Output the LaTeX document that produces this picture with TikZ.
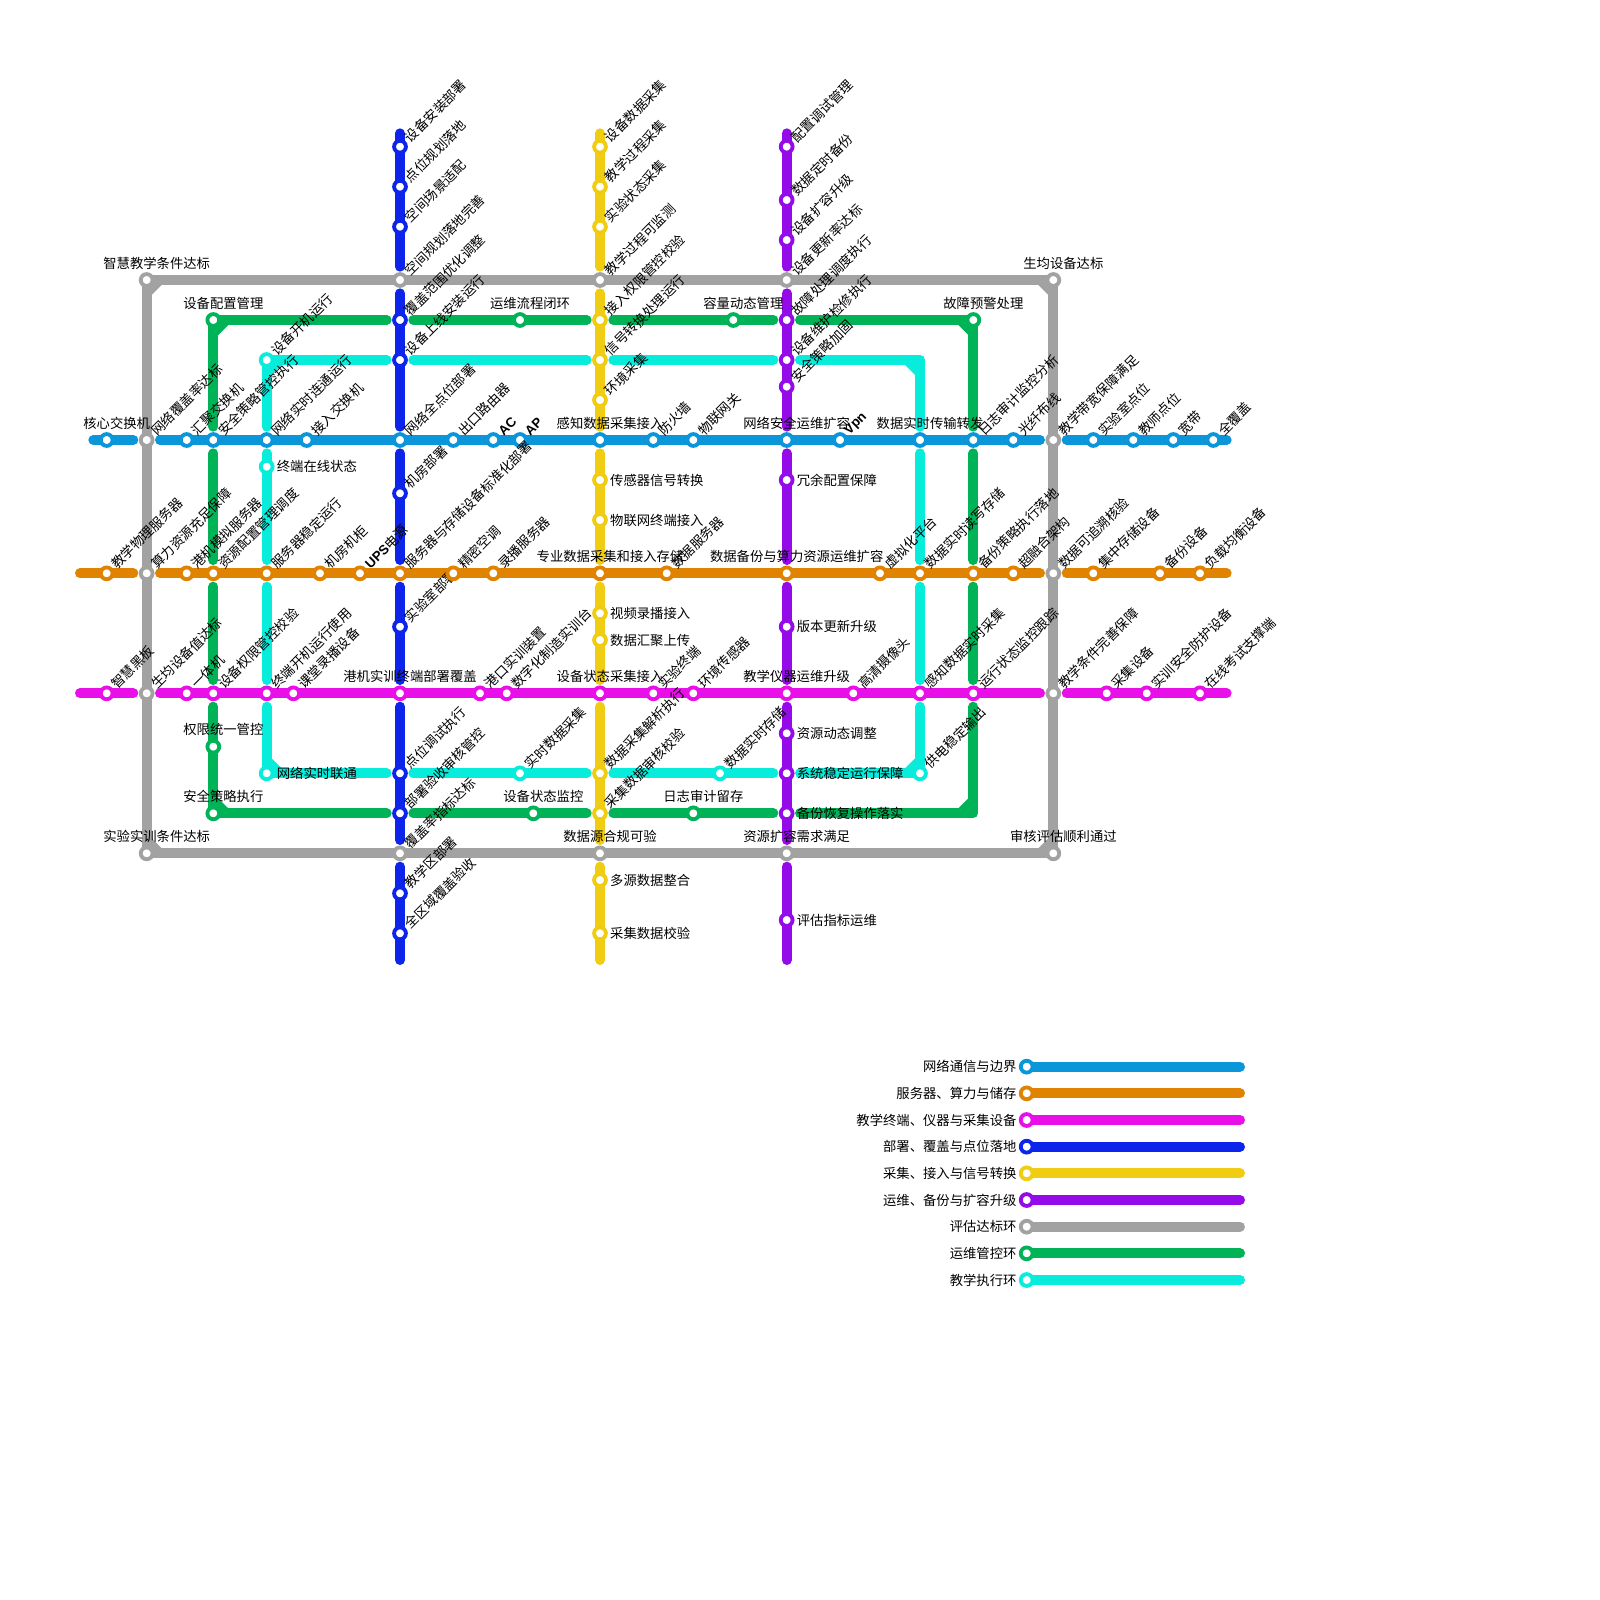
\documentclass[tikz,border=0pt]{standalone}
\usepackage{fontspec}
\setmainfont{Noto Sans CJK SC}
\newfontfamily\boldlat{Liberation Sans}
\usetikzlibrary{backgrounds}
\definecolor{netc}{HTML}{0A96D8}
\definecolor{orangec}{HTML}{DF8300}
\definecolor{magentac}{HTML}{E90FE9}
\definecolor{bluec}{HTML}{0D24EA}
\definecolor{yellowc}{HTML}{F0CC12}
\definecolor{purplec}{HTML}{940AE9}
\definecolor{greyc}{HTML}{A2A2A2}
\definecolor{greenc}{HTML}{00B357}
\definecolor{cyanc}{HTML}{08ECDC}

\begin{document}
\begin{tikzpicture}[
        x=0.4cm, y=-0.4cm,
        font=\fontsize{11.38pt}{13pt}\selectfont,
        ln/.style={line width=0.3cm, line cap=round, line join=round, draw=#1},
        gaps/.style={shorten <=0.4cm},
        gape/.style={shorten >=0.4cm},
        gapb/.style={shorten <=0.4cm, shorten >=0.4cm},
        st/.style={circle, fill=white, line width=0.115cm, inner sep=0pt, outer sep=0pt, minimum size=0.355cm, draw=#1},
        lbd/.style={xshift=0.21cm, yshift=0.21cm, rotate=45, anchor=west, inner sep=0pt},
        lbu/.style={xshift=0.3cm, yshift=0.51cm, inner sep=0pt},
        lbr/.style={xshift=0.3cm, anchor=west, inner sep=0pt},
        lbl/.style={xshift=-0.3cm, anchor=east, inner sep=0pt}
    ]
    \useasboundingbox (0,0) rectangle (120,120);

    % vertical lines
    \foreach \py/\kd/\tx in {11/lbd/设备安装部署, 14/lbd/点位规划落地, 17/lbd/空间场景适配, 24/lbd/覆盖范围优化调整, 27/lbd/设备上线安装运行, 37/lbd/机房部署, 47/lbd/实验室部署, 58/lbd/点位调试执行, 61/lbd/部署验收审核管控, 67/lbd/教学区部署, 70/lbd/全区域覆盖验收}
        {\node[st=bluec] (b\py) at (30,\py) {}; \node[\kd] (bt\py) at (b\py) {\tx};}
    \foreach \py/\kd/\tx in {11/lbd/设备数据采集, 14/lbd/教学过程采集, 17/lbd/实验状态采集, 24/lbd/接入权限管控校验, 27/lbd/信号转换处理运行, 30/lbd/环境采集, 36/lbr/传感器信号转换, 39/lbr/物联网终端接入, 46/lbr/视频录播接入, 48/lbr/数据汇聚上传, 58/lbd/数据采集解析执行, 61/lbd/采集数据审核校验, 66/lbr/多源数据整合, 70/lbr/采集数据校验}
        {\node[st=yellowc] (y\py) at (45,\py) {}; \node[\kd] (yt\py) at (y\py) {\tx};}
    \foreach \py/\kd/\tx in {11/lbd/配置调试管理, 15/lbd/数据定时备份, 18/lbd/设备扩容升级, 24/lbd/故障处理调度执行, 27/lbd/设备维护检修执行, 29/lbd/安全策略加固, 36/lbr/冗余配置保障, 47/lbr/版本更新升级, 55/lbr/资源动态调整, 58/lbr/系统稳定运行保障, 61/lbr/备份恢复操作落实, 69/lbr/评估指标运维}
        {\node[st=purplec] (p\py) at (59,\py) {}; \node[\kd] (pt\py) at (p\py) {\tx};}

    % grey ring
    \foreach \px/\kd/\tx in {11/lbu/智慧教学条件达标, 30/lbd/空间规划落地完善, 45/lbd/教学过程可监测, 59/lbd/设备更新率达标, 79/lbu/生均设备达标}
        {\node[st=greyc] (gt\px) at (\px,21) {}; \node[\kd] (gtt\px) at (gt\px) {\tx};}
    \foreach \px/\kd/\tx in {11/lbu/实验实训条件达标, 30/lbd/覆盖率指标达标, 45/lbu/数据源合规可验, 59/lbu/资源扩容需求满足, 79/lbu/审核评估顺利通过}
        {\node[st=greyc] (gb\px) at (\px,64) {}; \node[\kd] (gbt\px) at (gb\px) {\tx};}
    \foreach \py/\tx in {33/网络覆盖率达标, 43/算力资源充足保障, 52/生均设备值达标}
        {\node[st=greyc] (gl\py) at (11,\py) {}; \node[lbd] (glt\py) at (gl\py) {\tx};}
    \foreach \py/\tx in {33/教学带宽保障满足, 43/数据可追溯核验, 52/教学条件完善保障}
        {\node[st=greyc] (gr\py) at (79,\py) {}; \node[lbd] (grt\py) at (gr\py) {\tx};}

    % green ring
    \foreach \px/\py/\kd/\tx in {16/24/lbu/设备配置管理, 39/24/lbu/运维流程闭环, 55/24/lbu/容量动态管理, 73/24/lbu/故障预警处理, 16/56/lbu/权限统一管控, 16/61/lbu/安全策略执行, 40/61/lbu/设备状态监控, 52/61/lbu/日志审计留存}
        {\node[st=greenc] (k\px-\py) at (\px,\py) {}; \node[\kd] (kt\px-\py) at (k\px-\py) {\tx};}

    % cyan ring
    \foreach \px/\py/\kd/\tx in {20/27/lbd/设备开机运行, 20/35/lbr/终端在线状态, 20/58/lbr/网络实时联通, 39/58/lbd/实时数据采集, 54/58/lbd/数据实时存储, 69/58/lbd/供电稳定输出}
        {\node[st=cyanc] (c\px-\py) at (\px,\py) {}; \node[\kd] (ct\px-\py) at (c\px-\py) {\tx};}

    % horizontal lines
    \foreach \px/\kd/\tx in {8/lbu/核心交换机, 14/lbd/汇聚交换机, 16/lbd/安全策略管控执行, 20/lbd/网络实时连通运行, 23/lbd/接入交换机, 30/lbd/网络全点位部署, 34/lbd/出口路由器, 37/lbd/{\boldlat\bfseries AC}, 39/lbd/{\boldlat\bfseries AP}, 45/lbu/感知数据采集接入, 49/lbd/防火墙, 52/lbd/物联网关, 59/lbu/网络安全运维扩容, 63/lbd/{\boldlat\bfseries Vpn}, 69/lbu/数据实时传输转发, 73/lbd/日志审计监控分析, 76/lbd/光纤布线, 82/lbd/实验室点位, 85/lbd/教师点位, 88/lbd/宽带, 91/lbd/全覆盖}
        {\node[st=netc] (n\px) at (\px,33) {}; \node[\kd] (nt\px) at (n\px) {\tx};}
    \foreach \px/\kd/\tx in {8/lbd/教学物理服务器, 14/lbd/港机模拟服务器, 16/lbd/资源配置管理调度, 20/lbd/服务器稳定运行, 24/lbd/机房机柜, 27/lbd/{{\boldlat\bfseries UPS}电源}, 30/lbd/服务器与存储设备标准化部署, 34/lbd/精密空调, 37/lbd/录播服务器, 45/lbu/专业数据采集和接入存储, 50/lbd/数据服务器, 59/lbu/数据备份与算力资源运维扩容, 66/lbd/虚拟化平台, 69/lbd/数据实时读写存储, 73/lbd/备份策略执行落地, 76/lbd/超融合架构, 82/lbd/集中存储设备, 87/lbd/备份设备, 90/lbd/负载均衡设备}
        {\node[st=orangec] (o\px) at (\px,43) {}; \node[\kd] (ot\px) at (o\px) {\tx};}
    \foreach \px/\kd/\tx in {8/lbd/智慧黑板, 14/lbd/一体机, 16/lbd/设备权限管控校验, 20/lbd/终端开机运行使用, 22/lbd/课堂录播设备, 30/lbu/港机实训终端部署覆盖, 36/lbd/港口实训装置, 38/lbd/数字化制造实训台, 45/lbu/设备状态采集接入, 49/lbd/实验终端, 52/lbd/环境传感器, 59/lbu/教学仪器运维升级, 64/lbd/高清摄像头, 69/lbd/感知数据实时采集, 73/lbd/运行状态监控跟踪, 83/lbd/采集设备, 86/lbd/实训安全防护设备, 90/lbd/在线考试支撑端}
        {\node[st=magentac] (m\px) at (\px,52) {}; \node[\kd] (mt\px) at (m\px) {\tx};}

    % legend
    \foreach \py/\cc/\tx in {80/netc/网络通信与边界, 82/orangec/服务器、算力与储存, 84/magentac/教学终端、仪器与采集设备, 86/bluec/部署、覆盖与点位落地, 88/yellowc/采集、接入与信号转换, 90/purplec/运维、备份与扩容升级, 92/greyc/评估达标环, 94/greenc/运维管控环, 96/cyanc/教学执行环}
        {\node[st=\cc] (leg\py) at (77,\py) {};
         \node[lbl] (legt\py) at (leg\py) {\tx};
         \coordinate (lege\py) at (93,\py);
         \begin{scope}[on background layer]
            \draw[ln=\cc] (leg\py.center) -- (lege\py);
         \end{scope}}

    \coordinate (nA) at (7,33);  \coordinate (nZ) at (92,33);
    \coordinate (oA) at (6,43);  \coordinate (oZ) at (92,43);
    \coordinate (mA) at (6,52);  \coordinate (mZ) at (92,52);

    \begin{scope}[on background layer]
        \foreach \ll/\py/\cc in {n/33/netc, o/43/orangec, m/52/magentac} {
            \draw[ln=\cc, gape] (\ll A) -- (gl\py.center);
            \draw[ln=\cc, gapb] (gl\py.center) -- (gr\py.center);
            \draw[ln=\cc, gaps] (gr\py.center) -- (\ll Z);
        }
        \foreach \ll/\px/\cc in {b/30/bluec, y/45/yellowc, p/59/purplec} {
            \coordinate (\ll A) at (\px,10); \coordinate (\ll Z) at (\px,72);
            \draw[ln=\cc, gape] (\ll A) -- (gt\px.center);
            \draw[ln=\cc, gapb] (gt\px.center) -- (n\px.center);
            \draw[ln=\cc, gapb] (n\px.center) -- (o\px.center);
            \draw[ln=\cc, gapb] (o\px.center) -- (m\px.center);
            \draw[ln=\cc, gapb] (m\px.center) -- (gb\px.center);
            \draw[ln=\cc, gaps] (gb\px.center) -- (\ll Z);
        }
        \draw[ln=greyc] (gt11.center) -- (gt79.center) -- (gb79.center) -- (gb11.center) -- cycle;

        % green
        \draw[ln=greenc, gape] (k16-24.center) -- (b24.center);
        \draw[ln=greenc, gapb] (b24.center) -- (y24.center);
        \draw[ln=greenc, gapb] (y24.center) -- (p24.center);
        \draw[ln=greenc, gaps] (p24.center) -- (k73-24.center);
        \draw[ln=greenc, gape] (k16-24.center) -- (n16.center);
        \draw[ln=greenc, gapb] (n16.center) -- (o16.center);
        \draw[ln=greenc, gapb] (o16.center) -- (m16.center);
        \draw[ln=greenc, gaps] (m16.center) -- (k16-61.center);
        \draw[ln=greenc, gape] (k16-61.center) -- (b61.center);
        \draw[ln=greenc, gapb] (b61.center) -- (y61.center);
        \draw[ln=greenc, gapb] (y61.center) -- (p61.center);
        \draw[ln=greenc, gape] (k73-24.center) -- (n73.center);
        \draw[ln=greenc, gapb] (n73.center) -- (o73.center);
        \draw[ln=greenc, gapb] (o73.center) -- (m73.center);
        \draw[ln=greenc, gapb] (m73.center) |- (p61.center);

        % cyan
        \draw[ln=cyanc, gape] (c20-27.center) -- (b27.center);
        \draw[ln=cyanc, gapb] (b27.center) -- (y27.center);
        \draw[ln=cyanc, gapb] (y27.center) -- (p27.center);
        \draw[ln=cyanc, gapb] (p27.center) -| (n69.center);
        \draw[ln=cyanc, gapb] (n69.center) -- (o69.center);
        \draw[ln=cyanc, gapb] (o69.center) -- (m69.center);
        \draw[ln=cyanc, gaps] (m69.center) -- (c69-58.center);
        \draw[ln=cyanc, gape] (c20-27.center) -- (n20.center);
        \draw[ln=cyanc, gapb] (n20.center) -- (o20.center);
        \draw[ln=cyanc, gapb] (o20.center) -- (m20.center);
        \draw[ln=cyanc, gaps] (m20.center) -- (c20-58.center);
        \draw[ln=cyanc, gape] (c20-58.center) -- (b58.center);
        \draw[ln=cyanc, gapb] (b58.center) -- (y58.center);
        \draw[ln=cyanc, gapb] (y58.center) -- (p58.center);
        \draw[ln=cyanc, gaps] (p58.center) -- (c69-58.center);

        % corners
        \foreach \px/\py/\dx/\dy/\cc in {11/21/1/1/greyc, 79/21/-1/1/greyc, 79/64/-1/-1/greyc, 11/64/1/-1/greyc, 16/24/1/1/greenc, 73/24/-1/1/greenc, 73/61/-1/-1/greenc, 16/61/1/-1/greenc, 20/27/1/1/cyanc, 69/27/-1/1/cyanc, 69/58/-1/-1/cyanc, 20/58/1/-1/cyanc}
            \fill[\cc] (\px+0.3*\dx,\py+0.3*\dy) -- ++(0.9*\dx,0) -- ++(-0.9*\dx,0.9*\dy) -- cycle;
    \end{scope}
\end{tikzpicture}
\end{document}
